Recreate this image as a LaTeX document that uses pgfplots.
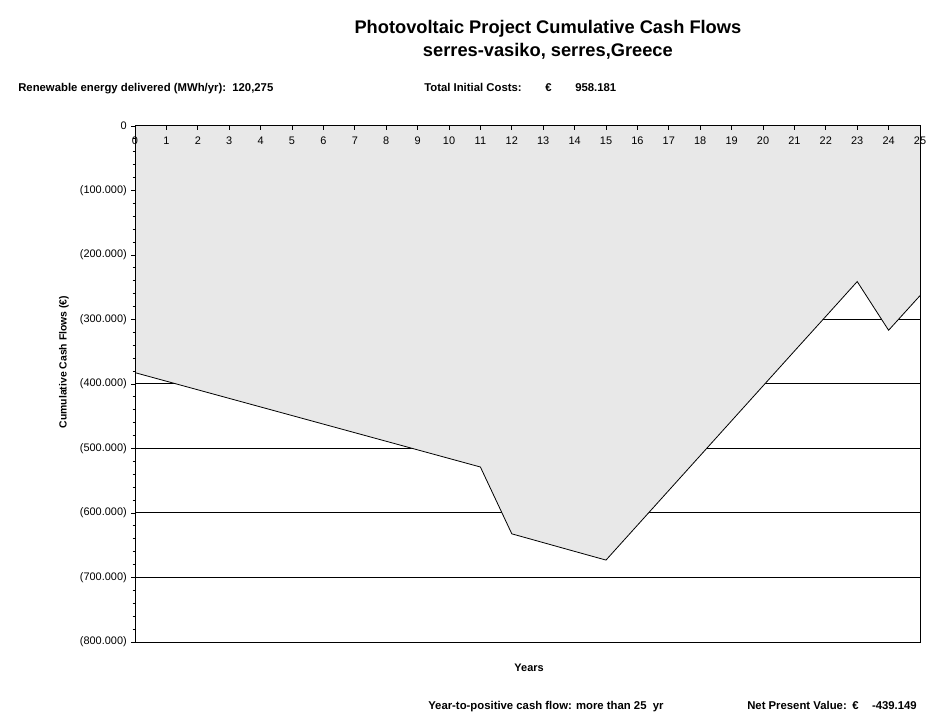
\documentclass[border=0pt]{standalone}
\usepackage{fontspec}
\setmainfont{Liberation Sans}
\usepackage{pgfplots}
\usepackage{pgfplotstable}
\pgfplotsset{compat=1.18}

\definecolor{areagray}{RGB}{232,232,232}

% cumulative cash flow per year
\pgfplotstableread{
year  cash
0   -382400
1   -395700
2   -409000
3   -422300
4   -435600
5   -448900
6   -462200
7   -475500
8   -488800
9   -502100
10  -515400
11  -528700
12  -632300
13  -645900
14  -659500
15  -673000
16  -619000
17  -565000
18  -511000
19  -457000
20  -403000
21  -349000
22  -295200
23  -241200
24  -316700
25  -263000
}\cashflow

\newcommand{\infofont}{\bfseries\fontsize{8.5}{10}\selectfont}

% both axes share the same frame
\pgfplotsset{
  cashframe/.style={
    at={(101.25pt,59.25pt)}, anchor=south west,
    scale only axis,
    width=588.75pt, height=387pt,
    xmin=0, xmax=25,
    ymin=-800000, ymax=0,
    ytick={-800000,-700000,-600000,-500000,-400000,-300000,-200000,-100000,0},
    scaled y ticks=false,
  },
}

\begin{document}
\begin{tikzpicture}[x=0.75pt,y=0.75pt]
\useasboundingbox (0,0) rectangle (952,721);

% back axis: grid lines, then the shaded area over them
\begin{axis}[
    cashframe,
    xtick=\empty,
    yticklabels=\empty,
    major tick length=0pt,
    ymajorgrids,
    major grid style={black, line width=0.75pt},
    axis line style={draw=none},
]
\addplot[fill=areagray, draw=none] table[x=year, y=cash] {\cashflow} \closedcycle;
\end{axis}

% front axis: frame, ticks, labels and the cash flow line
\begin{axis}[
    cashframe,
    xtick={0,...,25},
    xtick pos=right, xticklabel pos=right,
    x tick style={black, line width=0.6pt},
    xtick align=inside,
    xticklabel style={anchor=base, inner sep=0pt, yshift=-14.2pt,
        font=\fontsize{8.2}{10}\selectfont},
    yticklabels={(800.000),(700.000),(600.000),(500.000),(400.000),(300.000),(200.000),(100.000),0},
    minor y tick num=4,
    ytick align=outside,
    ytick pos=left,
    y tick style={black, line width=0.6pt},
    major tick length=3pt,
    minor tick length=1.8pt,
    yticklabel style={font=\fontsize{8.2}{10}\selectfont, inner sep=0pt, xshift=-3pt},
    /pgf/number format/assume math mode=true,
    axis line style={black, line width=0.75pt},
    xlabel={Years},
    xlabel style={at={(axis description cs:0.502,-0.0504)}, anchor=center,
        font=\bfseries\fontsize{8.2}{10}\selectfont},
    ylabel={Cumulative Cash Flows (€)},
    ylabel style={at={(axis description cs:-0.0904,0.5426)}, anchor=center,
        font=\bfseries\fontsize{7.8}{10}\selectfont},
    title={Photovoltaic Project Cumulative Cash Flows\\serres-vasiko, serres,Greece},
    title style={at={(axis description cs:0.526,1.152)}, anchor=center, align=center,
        font=\bfseries\fontsize{13.7}{17.25}\selectfont},
]
\addplot[black, line width=0.6pt] table[x=year, y=cash] {\cashflow};
\end{axis}

\node[anchor=base west, inner sep=0pt, font=\infofont] at (18,629) {Renewable energy delivered (MWh/yr):\ \ 120,275};
\node[anchor=base west, inner sep=0pt, font=\infofont] at (424,629) {Total Initial Costs:};
\node[anchor=base west, inner sep=0pt, font=\infofont] at (545,629) {€};
\node[anchor=base west, inner sep=0pt, font=\infofont] at (575,629) {958.181};
\node[anchor=base west, inner sep=0pt, font=\infofont] at (428,12) {Year-to-positive cash flow: more than 25\ \ yr};
\node[anchor=base west, inner sep=0pt, font=\infofont] at (747,12) {Net Present Value:};
\node[anchor=base west, inner sep=0pt, font=\infofont] at (852,12) {€};
\node[anchor=base east, inner sep=0pt, font=\infofont] at (917,12) {-439.149};
\end{tikzpicture}
\end{document}
